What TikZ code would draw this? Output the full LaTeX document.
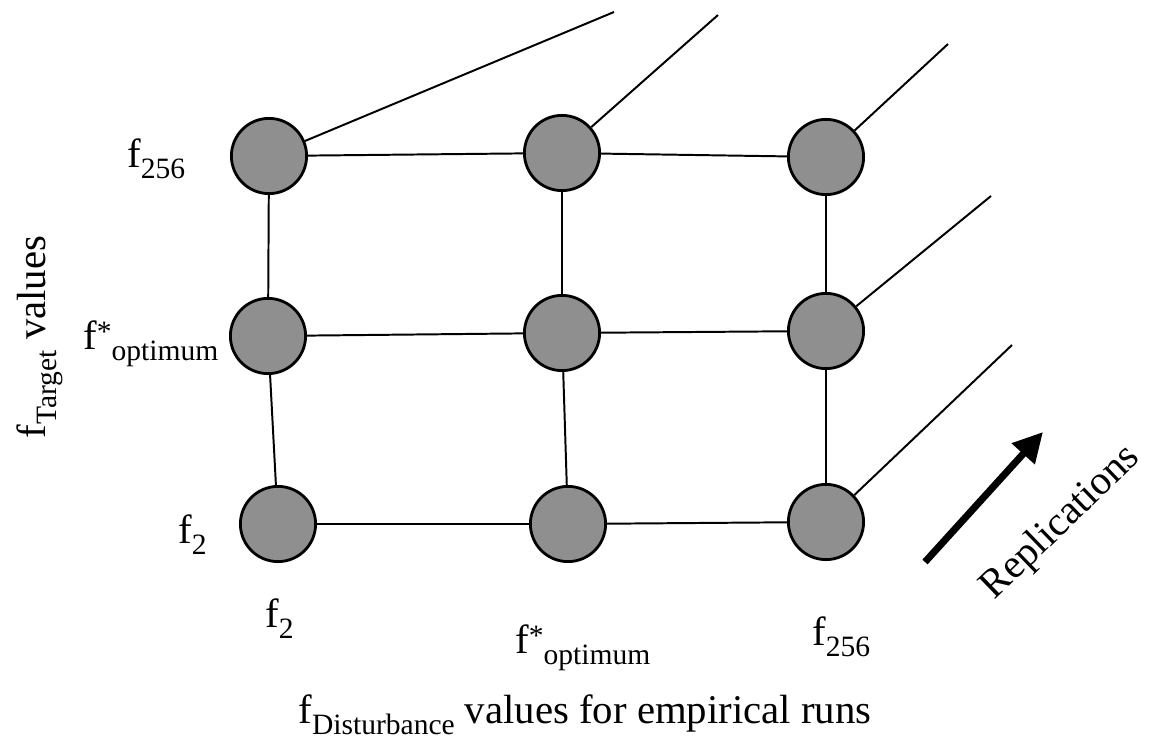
\documentclass[tikz,border=0pt]{standalone}
\usepackage{fontspec}
\setmainfont{Liberation Serif}
\usetikzlibrary{arrows.meta}
\definecolor{my_gray}{HTML}{8F8F8F}
\newcommand{\mainsize}{\fontsize{29}{33}\selectfont}
\newcommand{\subsize}{\fontsize{21}{25}\selectfont}
\newcommand{\fsub}[1]{f\raisebox{-0.6ex}{\subsize #1}}
\newcommand{\fopt}{f\raisebox{0.4ex}{\subsize *}\raisebox{-0.6ex}{\subsize optimum}}

\begin{document}
\begin{tikzpicture}[
    x=0.025cm, y=-0.025cm,
    dot/.style={circle, draw=black, line width=2pt, fill=my_gray, minimum size=1.88cm, inner sep=0pt},
    gridline/.style={line width=1.4pt},
    repline/.style={line width=1.4pt},
    reparrow/.style={line width=5pt, -{Triangle[length=21pt, width=21pt]}},
    lbl/.style={inner sep=0pt, font=\mainsize}
]
\useasboundingbox (0,0) rectangle (1160,742);

% grid of runs (rows: target, columns: disturbance)
\node[dot] (t1) at (269,156) {};
\node[dot] (t2) at (562,153) {};
\node[dot] (t3) at (826,157) {};
\node[dot] (m1) at (268,336) {};
\node[dot] (m2) at (562,333) {};
\node[dot] (m3) at (826,331) {};
\node[dot] (b1) at (278,524) {};
\node[dot] (b2) at (568,524) {};
\node[dot] (b3) at (826,522) {};

\foreach \a/\b in {t1/t2, t2/t3, m1/m2, m2/m3, b1/b2, b2/b3,
                   t1/m1, m1/b1, t2/m2, m2/b2, t3/m3, m3/b3}
    \draw[gridline] (\a) -- (\b);

% replication lines
\foreach \n/\px/\py in {t1/614/12, t2/718/15, t3/948/44, m3/991/196, b3/1012/345} {
    \coordinate (r_\n) at (\px,\py);
    \draw[repline] (\n) -- (r_\n);
}

% replication arrow
\coordinate (arr_s) at (925,562);
\coordinate (arr_e) at (1043,432);
\draw[reparrow] (arr_s) -- (arr_e);
\node[lbl, anchor=base, rotate=44] (rep) at (1068,530) {Replications};

% row labels
\node[lbl, anchor=base west] (lt) at (127,167) {\fsub{256}};
\node[lbl, anchor=base west] (lm) at (83,349) {\fopt};
\node[lbl, anchor=base west] (lb) at (178,543) {\fsub{2}};

% column labels
\node[lbl, anchor=base west] (c1) at (265,627) {\fsub{2}};
\node[lbl, anchor=base west] (c2) at (515,653) {\fopt};
\node[lbl, anchor=base west] (c3) at (812,645) {\fsub{256}};

% axis titles
\node[lbl, anchor=base, rotate=90] (ytitle) at (45,337) {\fsub{Target} values};
\node[lbl, anchor=base] (xtitle) at (585,723) {\fsub{Disturbance} values for empirical runs};

\end{tikzpicture}
\end{document}
